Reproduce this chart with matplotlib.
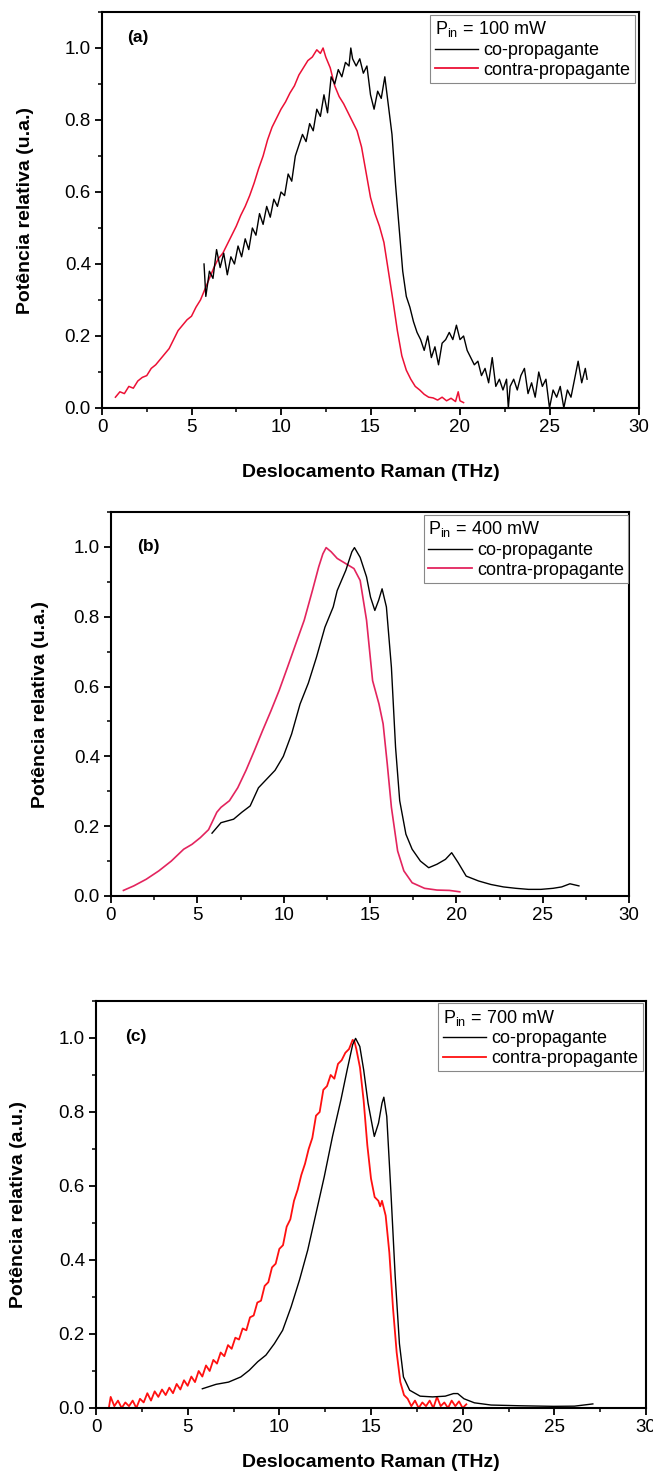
import matplotlib
matplotlib.use("Agg")
import matplotlib.pyplot as plt
from matplotlib.lines import Line2D
from matplotlib.ticker import MultipleLocator, FormatStrFormatter

plt.rcParams['font.family'] = ['Liberation Sans', 'DejaVu Sans']

# ---------------- data ----------------
# Panel (a) P_in = 100 mW
a_co_x = [5.7, 5.8, 6.0, 6.2, 6.4, 6.6, 6.8, 7.0, 7.2, 7.4, 7.6, 7.8, 8.0, 8.2, 8.4, 8.6, 8.8, 9.0, 9.2, 9.4,
          9.6, 9.8, 10.0, 10.2, 10.4, 10.6, 10.8, 11.0, 11.2, 11.4, 11.6, 11.8, 12.0, 12.2, 12.4, 12.6, 12.8,
          13.0, 13.2, 13.4, 13.6, 13.8, 13.9, 14.0, 14.2, 14.4, 14.6, 14.8, 15.0, 15.2, 15.4, 15.6, 15.8, 16.0,
          16.2, 16.4, 16.6, 16.8, 17.0, 17.2, 17.4, 17.6, 17.8, 18.0, 18.2, 18.4, 18.6, 18.8, 19.0, 19.2, 19.4,
          19.6, 19.8, 20.0, 20.2, 20.4, 20.6, 20.8, 21.0, 21.2, 21.4, 21.6, 21.8, 22.0, 22.2, 22.4, 22.6, 22.7,
          22.8, 23.0, 23.2, 23.4, 23.6, 23.8, 24.0, 24.2, 24.4, 24.6, 24.8, 25.0, 25.2, 25.4, 25.6, 25.8, 26.0,
          26.2, 26.4, 26.6, 26.8, 27.0, 27.1]
a_co_y = [0.40, 0.31, 0.38, 0.36, 0.44, 0.39, 0.43, 0.37, 0.42, 0.40, 0.45, 0.42, 0.47, 0.44, 0.50, 0.48, 0.54,
          0.51, 0.56, 0.53, 0.58, 0.56, 0.60, 0.59, 0.65, 0.63, 0.70, 0.73, 0.76, 0.74, 0.79, 0.77, 0.83, 0.81,
          0.87, 0.82, 0.92, 0.90, 0.94, 0.92, 0.96, 0.95, 1.00, 0.97, 0.95, 0.97, 0.93, 0.95, 0.87, 0.83, 0.88,
          0.86, 0.92, 0.84, 0.76, 0.62, 0.50, 0.38, 0.31, 0.28, 0.24, 0.21, 0.19, 0.16, 0.20, 0.14, 0.17, 0.12,
          0.18, 0.19, 0.21, 0.19, 0.23, 0.19, 0.20, 0.16, 0.14, 0.12, 0.13, 0.09, 0.11, 0.07, 0.14, 0.06, 0.08,
          0.05, 0.08, 0.00, 0.06, 0.08, 0.05, 0.09, 0.11, 0.04, 0.07, 0.03, 0.10, 0.06, 0.08, 0.00, 0.05, 0.03,
          0.06, 0.00, 0.05, 0.03, 0.08, 0.13, 0.07, 0.11, 0.08]
a_contra_x = [0.75, 1.0, 1.25, 1.5, 1.75, 2.0, 2.25, 2.5, 2.75, 3.0, 3.25, 3.5, 3.75, 4.0, 4.25, 4.5, 4.75, 5.0,
              5.25, 5.5, 5.75, 6.0, 6.25, 6.5, 6.75, 7.0, 7.25, 7.5, 7.75, 8.0, 8.25, 8.5, 8.75, 9.0, 9.25, 9.5,
              9.75, 10.0, 10.25, 10.5, 10.75, 11.0, 11.25, 11.5, 11.75, 12.0, 12.2, 12.35, 12.5, 12.75, 13.0,
              13.25, 13.5, 13.75, 14.0, 14.25, 14.5, 14.75, 15.0, 15.25, 15.5, 15.75, 16.0, 16.25, 16.5, 16.75,
              17.0, 17.25, 17.5, 17.75, 18.0, 18.25, 18.5, 18.75, 19.0, 19.25, 19.5, 19.75, 19.9, 20.0, 20.2]
a_contra_y = [0.03, 0.045, 0.04, 0.06, 0.055, 0.075, 0.085, 0.09, 0.11, 0.12, 0.135, 0.15, 0.165, 0.19, 0.215,
              0.23, 0.245, 0.255, 0.28, 0.30, 0.33, 0.36, 0.39, 0.415, 0.43, 0.455, 0.48, 0.505, 0.535, 0.56,
              0.59, 0.625, 0.665, 0.70, 0.745, 0.78, 0.805, 0.83, 0.85, 0.875, 0.895, 0.925, 0.945, 0.965,
              0.975, 0.995, 0.985, 1.0, 0.975, 0.945, 0.895, 0.865, 0.845, 0.82, 0.795, 0.77, 0.725, 0.655,
              0.585, 0.54, 0.505, 0.46, 0.38, 0.30, 0.215, 0.145, 0.105, 0.08, 0.06, 0.05, 0.038, 0.03, 0.028,
              0.022, 0.03, 0.02, 0.027, 0.018, 0.045, 0.02, 0.015]

# Panel (b) P_in = 400 mW
b_co_x = [5.85, 6.37, 7.1, 7.58, 8.06, 8.54, 9.02, 9.5, 9.98, 10.46, 10.95, 11.43, 11.9, 12.39, 12.87, 13.1,
          13.6, 13.95, 14.1, 14.43, 14.8, 15.03, 15.28, 15.5, 15.7, 15.95, 16.24, 16.48, 16.72, 17.08, 17.44,
          17.92, 18.4, 18.88, 19.37, 19.73, 20.1, 20.57, 21.29, 22.0, 22.73, 23.45, 24.18, 24.9, 25.6, 26.1,
          26.58, 27.1]
b_co_y = [0.18, 0.21, 0.22, 0.24, 0.258, 0.31, 0.335, 0.36, 0.40, 0.464, 0.55, 0.61, 0.684, 0.77, 0.828, 0.875,
          0.933, 0.986, 0.998, 0.97, 0.914, 0.856, 0.818, 0.847, 0.88, 0.828, 0.655, 0.426, 0.273, 0.177, 0.134,
          0.10, 0.081, 0.091, 0.105, 0.124, 0.096, 0.057, 0.043, 0.033, 0.026, 0.022, 0.019, 0.019, 0.022,
          0.026, 0.035, 0.029]
b_contra_x = [0.72, 1.32, 2.04, 2.77, 3.49, 4.21, 4.69, 5.17, 5.65, 6.13, 6.37, 6.86, 7.34, 7.82, 8.3, 8.78,
              9.26, 9.74, 10.22, 10.7, 11.19, 11.67, 12.03, 12.27, 12.46, 12.75, 13.1, 13.6, 14.07, 14.43, 14.8,
              15.15, 15.52, 15.76, 16.0, 16.24, 16.6, 16.96, 17.44, 18.16, 18.88, 19.6, 20.2]
b_contra_y = [0.016, 0.029, 0.048, 0.072, 0.10, 0.134, 0.148, 0.167, 0.19, 0.24, 0.254, 0.273, 0.31, 0.36,
              0.416, 0.474, 0.53, 0.589, 0.655, 0.722, 0.79, 0.876, 0.943, 0.98, 0.998, 0.986, 0.967, 0.952,
              0.938, 0.904, 0.79, 0.617, 0.55, 0.493, 0.378, 0.254, 0.129, 0.072, 0.038, 0.022, 0.017, 0.016,
              0.012]

# Panel (c) P_in = 700 mW
c_co_x = [5.8, 6.55, 7.23, 7.9, 8.36, 8.82, 9.27, 9.73, 10.18, 10.64, 11.1, 11.55, 12.0, 12.45, 12.9, 13.36,
          13.7, 14.0, 14.16, 14.39, 14.6, 14.84, 15.18, 15.41, 15.6, 15.7, 15.86, 16.09, 16.32, 16.55, 16.77,
          17.11, 17.68, 18.36, 19.05, 19.5, 19.73, 20.07, 20.64, 21.55, 23.14, 24.95, 26.1, 27.1]
c_co_y = [0.052, 0.064, 0.07, 0.084, 0.102, 0.125, 0.143, 0.174, 0.21, 0.273, 0.346, 0.427, 0.526, 0.625,
          0.734, 0.833, 0.914, 0.982, 0.999, 0.977, 0.914, 0.824, 0.734, 0.77, 0.824, 0.84, 0.788, 0.58, 0.355,
          0.174, 0.084, 0.048, 0.032, 0.03, 0.032, 0.039, 0.039, 0.025, 0.014, 0.008, 0.006, 0.0045, 0.005,
          0.011]
c_contra_x = [0.7, 0.8, 1.0, 1.2, 1.4, 1.6, 1.8, 2.0, 2.2, 2.4, 2.6, 2.8, 3.0, 3.2, 3.4, 3.6, 3.8, 4.0, 4.2,
              4.4, 4.6, 4.8, 5.0, 5.2, 5.4, 5.6, 5.8, 6.0, 6.2, 6.4, 6.6, 6.8, 7.0, 7.2, 7.4, 7.6, 7.8, 8.0,
              8.2, 8.4, 8.6, 8.8, 9.0, 9.2, 9.4, 9.6, 9.8, 10.0, 10.2, 10.4, 10.6, 10.8, 11.0, 11.2, 11.4,
              11.6, 11.8, 12.0, 12.2, 12.4, 12.6, 12.8, 13.0, 13.2, 13.4, 13.6, 13.8, 14.0, 14.1, 14.2, 14.4,
              14.6, 14.8, 15.0, 15.2, 15.4, 15.5, 15.6, 15.8, 16.0, 16.2, 16.4, 16.6, 16.8, 17.0, 17.2, 17.4,
              17.6, 17.8, 18.0, 18.2, 18.4, 18.6, 18.8, 19.0, 19.2, 19.4, 19.6, 19.8, 20.0, 20.2]
c_contra_y = [0.0, 0.03, 0.005, 0.02, 0.0, 0.015, 0.005, 0.02, 0.0, 0.025, 0.015, 0.04, 0.02, 0.045, 0.03,
              0.05, 0.035, 0.055, 0.04, 0.065, 0.05, 0.075, 0.06, 0.085, 0.07, 0.10, 0.085, 0.115, 0.10, 0.13,
              0.12, 0.15, 0.14, 0.17, 0.16, 0.19, 0.185, 0.215, 0.21, 0.245, 0.25, 0.285, 0.29, 0.33, 0.34,
              0.38, 0.39, 0.43, 0.44, 0.49, 0.51, 0.56, 0.59, 0.63, 0.66, 0.70, 0.73, 0.79, 0.80, 0.86, 0.87,
              0.90, 0.89, 0.93, 0.94, 0.96, 0.97, 0.995, 0.99, 0.97, 0.92, 0.83, 0.71, 0.62, 0.57, 0.56, 0.545,
              0.56, 0.52, 0.42, 0.27, 0.15, 0.07, 0.035, 0.025, 0.005, 0.02, 0.0, 0.015, 0.005, 0.02, 0.0, 0.03,
              0.005, 0.015, 0.0, 0.02, 0.005, 0.018, 0.0, 0.01]

panel_tags = ['(a)', '(b)', '(c)']
power_labels = ['100 mW', '400 mW', '700 mW']
series_names = ['co-propagante', 'contra-propagante']
ylabels = ['Potência relativa (u.a.)', 'Potência relativa (u.a.)', 'Potência relativa (a.u.)']
xlabel_text = 'Deslocamento Raman (THz)'

# ---------------- figure ----------------
W, H = 653, 1474
fig = plt.figure(figsize=(W / 100, H / 100), dpi=100)

def box(l, t, r, b):
    return [l / W, 1 - b / H, (r - l) / W, (b - t) / H]

axes_boxes = [box(102, 12, 639, 408), box(111, 512, 629, 896), box(96, 1001, 646, 1408)]
red_colors = ['#ec1035', '#e3245e', '#ff1010']
red_lw = [1.1, 1.2, 1.3]
ylab_x = [-0.143, -0.137, -0.14]
xlab_y = [-0.164, None, -0.135]
tag_pos = [(1.4, 1.03), (1.5, 1.0), (1.6, 1.005)]
leg_anchor = [(0.993, 0.993), (0.999, 0.993), (0.995, 0.995)]
data = [(a_co_x, a_co_y, a_contra_x, a_contra_y),
        (b_co_x, b_co_y, b_contra_x, b_contra_y),
        (c_co_x, c_co_y, c_contra_x, c_contra_y)]

for i in range(3):
    ax = fig.add_axes(axes_boxes[i])
    cx, cy, rx, ry = data[i]
    ax.plot(cx, cy, color='black', lw=1.0, zorder=3)
    ax.plot(rx, ry, color=red_colors[i], lw=red_lw[i], zorder=2)
    ax.set_xlim(0, 30)
    ax.set_ylim(0, 1.1)
    ax.xaxis.set_major_locator(MultipleLocator(5))
    ax.xaxis.set_minor_locator(MultipleLocator(2.5))
    ax.yaxis.set_major_locator(MultipleLocator(0.2))
    ax.yaxis.set_minor_locator(MultipleLocator(0.1))
    ax.yaxis.set_major_formatter(FormatStrFormatter('%.1f'))
    ax.tick_params(which='major', direction='out', length=5, width=1.3, labelsize=13.5, pad=3)
    ax.tick_params(which='minor', direction='out', length=3, width=1.1)
    for s in ax.spines.values():
        s.set_linewidth(1.5)
    ax.set_ylabel(ylabels[i], fontsize=14, fontweight='bold', va='center')
    ax.yaxis.set_label_coords(ylab_x[i], 0.5)
    if xlab_y[i] is not None:
        ax.set_xlabel(xlabel_text, fontsize=14, fontweight='bold', va='center')
        ax.xaxis.set_label_coords(0.5, xlab_y[i])
    ax.text(tag_pos[i][0], tag_pos[i][1], panel_tags[i], fontsize=12.5, fontweight='bold',
            ha='left', va='center')
    handles = [Line2D([], [], color='black', lw=1.0), Line2D([], [], color=red_colors[i], lw=1.3)]
    leg = ax.legend(handles, series_names, title=r'$\mathregular{P_{in}}$ = ' + power_labels[i],
                    loc='upper right', bbox_to_anchor=leg_anchor[i], fontsize=13, title_fontsize=13,
                    alignment='left', frameon=True, fancybox=False, edgecolor='#888888', framealpha=1,
                    handlelength=2.4, handletextpad=0.3, labelspacing=0.15, borderpad=0.25,
                    borderaxespad=0.0)
    leg.get_frame().set_linewidth(0.8)

fig.savefig('out.png', dpi=100)
